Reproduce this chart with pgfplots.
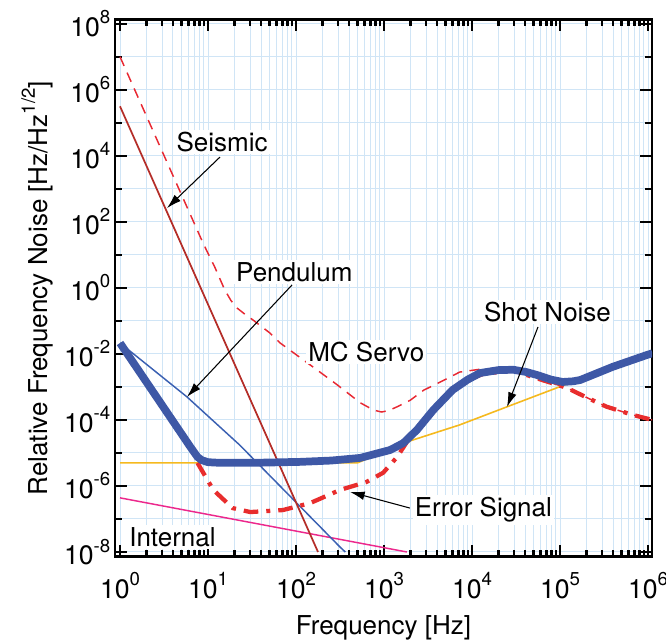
\documentclass[border=0pt]{standalone}
\usepackage{fontspec}
\setmainfont{TeX Gyre Heros}
\usepackage{pgfplots}
\pgfplotsset{compat=1.18}
\usetikzlibrary{arrows.meta,calc}
\definecolor{totblue}{RGB}{62,88,166}
\definecolor{pendblue}{RGB}{58,96,178}
\definecolor{seisred}{RGB}{180,45,40}
\definecolor{mcred}{RGB}{232,40,50}
\definecolor{errred}{RGB}{232,45,45}
\definecolor{shotyel}{RGB}{245,185,30}
\definecolor{intpink}{RGB}{236,40,140}
\definecolor{gridblue}{RGB}{208,229,246}
\newcommand{\sups}[1]{\raisebox{0.48em}{\fontsize{14}{14}\selectfont #1}}
\newcommand{\anno}{\fontsize{19.5}{19.5}\selectfont}
\begin{document}
\begin{tikzpicture}
\begin{axis}[
  xmode=log, ymode=log,
  scale only axis, width=402.75pt, height=403.1pt,
  xmin=0.877, xmax=1.11e6, ymin=7.08e-9, ymax=1.35e8,
  xtick={1,10,100,1000,10000,100000,1000000},
  xticklabels={10\sups{0},10\sups{1},10\sups{2},10\sups{3},10\sups{4},10\sups{5},10\sups{6}},
  minor xtick={2,3,4,5,6,7,8,9,20,30,40,50,60,70,80,90,200,300,400,500,600,700,800,900,2000,3000,4000,5000,6000,7000,8000,9000,20000,30000,40000,50000,60000,70000,80000,90000,200000,300000,400000,500000,600000,700000,800000,900000},
  ytick={1e-8,1e-6,1e-4,1e-2,1,1e2,1e4,1e6,1e8},
  yticklabels={10\sups{-8},10\sups{-6},10\sups{-4},10\sups{-2},10\sups{0},10\sups{2},10\sups{4},10\sups{6},10\sups{8}},
  minor ytick={1e-7,1e-5,1e-3,1e-1,10,1e3,1e5,1e7},
  grid=both,
  major grid style={color=gridblue, line width=0.75pt},
  minor grid style={color=gridblue, line width=0.75pt},
  tick align=inside,
  major tick length=9pt, minor tick length=5pt,
  tick style={black, line width=1.8pt},
  axis line style={line width=2.2pt},
  ticklabel style={font=\fontsize{20}{20}\selectfont},
  xticklabel style={yshift=-8pt},
  xlabel={Frequency [Hz]},
  ylabel={Relative Frequency Noise [Hz/Hz\sups{1/2}]},
  label style={font=\fontsize{19.5}{19.5}\selectfont},
  xlabel style={at={(axis description cs:0.5,-0.132)}, anchor=center},
  ylabel style={at={(axis description cs:-0.145,0.5)}, anchor=center},
]
% Internal
\addplot[intpink, line width=1.1pt] table[x expr=10^\thisrow{lx}, y expr=10^\thisrow{ly}] {
lx ly
0 -6.36
3.26 -8.0
};
% Shot noise
\addplot[shotyel, line width=1.2pt] table[x expr=10^\thisrow{lx}, y expr=10^\thisrow{ly}] {
lx ly
0 -5.3
2.7 -5.3
3.22 -4.70
3.86 -4.15
4.4 -3.6
5.11 -2.88
};
% Pendulum
\addplot[pendblue, line width=1.1pt] table[x expr=10^\thisrow{lx}, y expr=10^\thisrow{ly}] {
lx ly
0 -1.67
0.76 -3.30
1.36 -4.76
2.5 -7.85
2.56 -8.0
};
% Seismic
\addplot[seisred, line width=1.3pt] table[x expr=10^\thisrow{lx}, y expr=10^\thisrow{ly}] {
lx ly
0 5.5
2.25 -8.0
};
% MC Servo
\addplot[mcred, line width=1.1pt, dash pattern=on 7.5pt off 5.5pt] table[x expr=10^\thisrow{lx}, y expr=10^\thisrow{ly}] {
lx ly
0 7.0
0.943 1.36
1.08 0.61
1.19 -0.06
1.26 -0.38
1.33 -0.61
1.42 -0.80
1.51 -0.97
1.70 -1.36
1.82 -1.67
2.19 -2.39
2.47 -2.94
2.73 -3.48
2.88 -3.70
2.97 -3.76
3.05 -3.72
3.15 -3.60
3.3 -3.40
3.45 -3.10
3.64 -2.85
3.86 -2.55
4.13 -2.45
4.47 -2.48
4.69 -2.7
5.08 -3.03
5.31 -3.33
5.53 -3.6
5.83 -3.85
6.05 -4.0
};
% Error signal
\addplot[errred, line width=3.2pt, dash pattern=on 11pt off 6pt on 3pt off 6pt] table[x expr=10^\thisrow{lx}, y expr=10^\thisrow{ly}] {
lx ly
0.88 -5.3
1.06 -6.12
1.28 -6.67
1.48 -6.79
1.85 -6.73
2.16 -6.52
2.5 -6.12
2.8 -5.88
2.99 -5.6
3.15 -5.12
3.3 -4.5
3.5 -3.85
3.7 -3.25
3.9 -2.85
4.13 -2.6
4.47 -2.5
4.69 -2.7
5.08 -3.03
5.31 -3.33
5.53 -3.6
5.83 -3.85
6.05 -4.0
};
% Total
\addplot[totblue, line width=5.8pt, line join=round] table[x expr=10^\thisrow{lx}, y expr=10^\thisrow{ly}] {
lx ly
0 -1.67
0.8 -4.82
0.88 -5.12
0.93 -5.22
1.0 -5.28
1.14 -5.3
1.5 -5.3
2.05 -5.27
2.4 -5.23
2.73 -5.15
3.07 -4.91
3.22 -4.70
3.375 -4.30
3.56 -3.70
3.78 -3.09
3.95 -2.78
4.09 -2.58
4.3 -2.49
4.47 -2.48
4.62 -2.55
4.74 -2.64
4.9 -2.78
5.03 -2.85
5.15 -2.83
5.23 -2.79
5.6 -2.39
5.99 -2.03
6.05 -1.98
};
% annotations
\node[fill=white, inner sep=1.5pt, font=\anno] at (axis description cs:0.1993,0.772) {Seismic};
\draw[-{Latex[length=11pt,width=6.5pt]}, line width=0.8pt] (axis description cs:0.1955,0.744) -- (axis description cs:0.0968,0.649);
\node[fill=white, inner sep=1.5pt, font=\anno] at (axis description cs:0.334,0.530) {Pendulum};
\draw[-{Latex[length=11pt,width=6.5pt]}, line width=0.8pt] (axis description cs:0.3296,0.506) -- (axis description cs:0.134,0.2977);
\node[fill=white, inner sep=1.5pt, font=\anno] at (axis description cs:0.468,0.381) {MC Servo};
\node[fill=white, inner sep=1.5pt, font=\anno] at (axis description cs:0.8054,0.4558) {Shot Noise};
\draw[-{Latex[length=11pt,width=6.5pt]}, line width=0.8pt] (axis description cs:0.7877,0.4279) -- (axis description cs:0.730,0.279);
\node[fill=white, inner sep=1.5pt, font=\anno] at (axis description cs:0.686,0.0874) {Error Signal};
\draw[-{Latex[length=11pt,width=6.5pt]}, line width=0.8pt] (axis description cs:0.549,0.091) -- (axis description cs:0.4376,0.121);
\node[fill=white, inner sep=1.5pt, font=\anno] at (axis description cs:0.107,0.037) {Internal};
\end{axis}
\pgfresetboundingbox
\path ($(current axis.south west)+(-86.25pt,-62.25pt)$) rectangle ($(current axis.north east)+(10.5pt,14.6pt)$);
\end{tikzpicture}
\end{document}
